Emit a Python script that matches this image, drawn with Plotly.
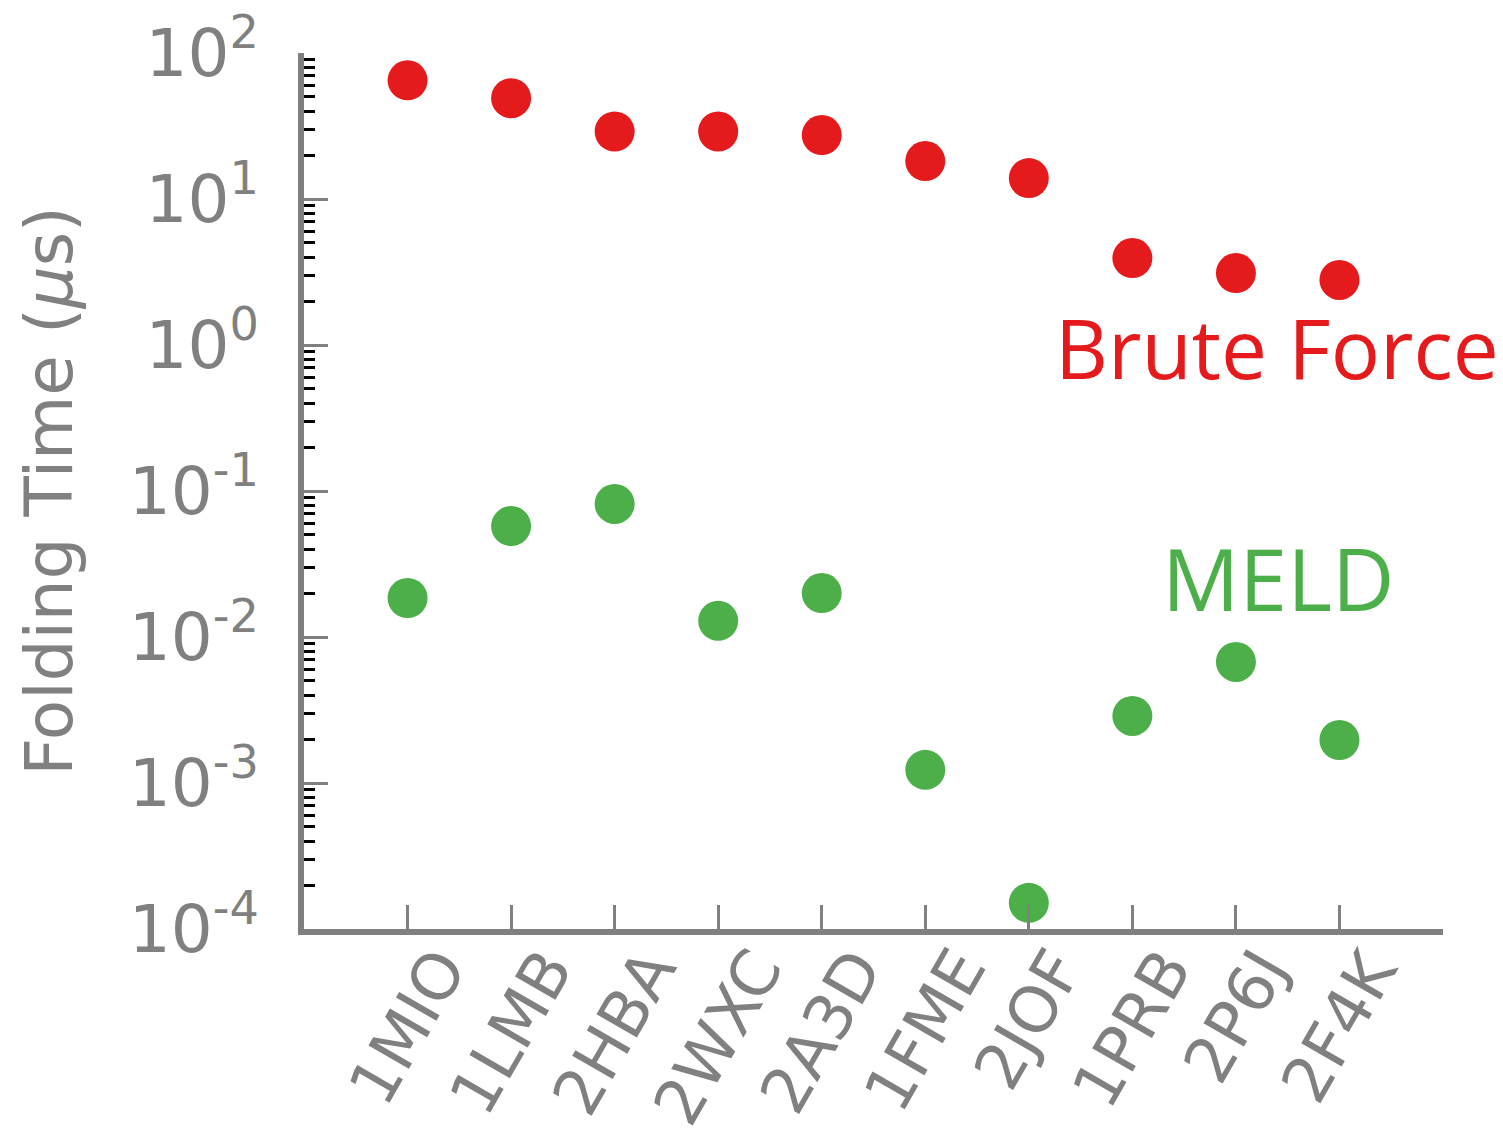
import plotly.graph_objects as go

categories = ["1MIO", "1LMB", "2HBA", "2WXC", "2A3D", "1FME", "2JOF", "1PRB", "2P6J", "2F4K"]
brute_force = [65, 49, 29, 29, 27.4, 18.2, 13.9, 3.94, 3.11, 2.79]
meld = [0.0185, 0.0575, 0.0815, 0.0129, 0.020, 0.00123, 0.000151, 0.00288, 0.00675, 0.00197]
ytick_vals = [1e-4, 1e-3, 1e-2, 1e-1, 1e0, 1e1, 1e2]
ytick_text = ["10<sup>-4</sup>", "10<sup>-3</sup>", "10<sup>-2</sup>", "10<sup>-1</sup>",
              "10<sup>0</sup>", "10<sup>1</sup>", "10<sup>2</sup>"]

RED = "#E41A1C"
GREEN = "#4DAF4A"
GREY = "#808080"
xpos = list(range(len(categories)))

fig = go.Figure()
fig.add_trace(go.Scatter(x=xpos, y=brute_force, mode="markers",
                         marker=dict(color=RED, size=40, line=dict(width=0)),
                         showlegend=False))
fig.add_trace(go.Scatter(x=xpos, y=meld, mode="markers",
                         marker=dict(color=GREEN, size=40, line=dict(width=0)),
                         showlegend=False))

for i, c in enumerate(categories):
    fig.add_annotation(x=i, xref="x", y=-0.006, yref="paper", text=c,
                       textangle=-60, showarrow=False, xanchor="center", yanchor="top",
                       font=dict(family="DejaVu Sans", size=64, color=GREY))

fig.add_annotation(x=0.8545, y=0.664, xref="paper", yref="paper", text="Brute Force",
                   showarrow=False, xanchor="center", yanchor="middle",
                   font=dict(family="Open Sans", size=82, color=RED))
fig.add_annotation(x=0.855, y=0.401, xref="paper", yref="paper", text="MELD",
                   showarrow=False, xanchor="center", yanchor="middle",
                   font=dict(family="Open Sans", size=86, color=GREEN))

fig.update_layout(
    width=1503, height=1138,
    margin=dict(l=304, r=60, t=53, b=209, autoexpand=False),
    paper_bgcolor="white", plot_bgcolor="white",
    font=dict(family="DejaVu Sans", color=GREY),
    xaxis=dict(range=[-1, 10], tickmode="array", tickvals=xpos, showticklabels=False,
               ticks="inside", ticklen=24, tickwidth=2.5, tickcolor=GREY, automargin=False,
               showline=True, linecolor=GREY, linewidth=6, showgrid=False, zeroline=False),
    yaxis=dict(type="log", range=[-4, 2], tickmode="array", tickvals=ytick_vals,
               ticktext=ytick_text, ticks="inside", ticklen=24, tickwidth=2.5, tickcolor=GREY,
               tickfont=dict(family="DejaVu Sans", size=66, color=GREY),
               ticklabelstandoff=26, automargin=False,
               minor=dict(ticks="inside", ticklen=11, tickwidth=3, tickcolor="black",
                          dtick="D1", showgrid=False),
               showline=True, linecolor=GREY, linewidth=6, showgrid=False, zeroline=False,
               title=dict(text="Folding Time (<i>μ</i>s)",
                          font=dict(family="DejaVu Sans", size=66, color=GREY), standoff=37)),
)

fig.write_html("out.html")
